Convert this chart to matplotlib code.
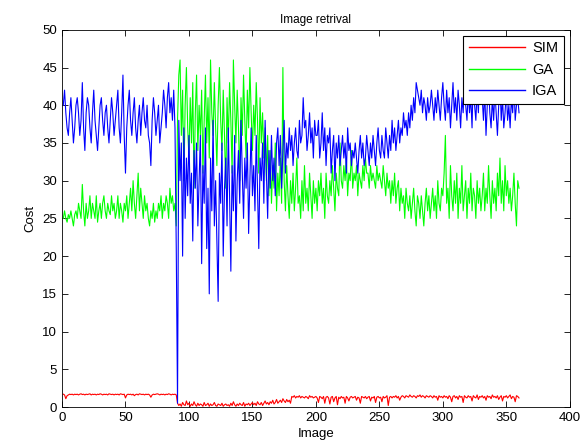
import matplotlib
matplotlib.use("Agg")
import matplotlib.pyplot as plt
import numpy as np

plt.rcParams['font.family'] = ['Liberation Sans', 'DejaVu Sans']

title = "Image retrival"
xlabel = "Image"
ylabel = "Cost"
series_names = ["SIM", "GA", "IGA"]
xticks = [0, 50, 100, 150, 200, 250, 300, 350, 400]
yticks = [0, 5, 10, 15, 20, 25, 30, 35, 40, 45, 50]

iga = [
    40, 42, 39, 37, 36, 39, 41, 38, 35, 37,
    40, 41, 39, 36, 38, 43, 37, 34, 39, 41,
    40, 37, 35, 39, 42, 38, 36, 34, 37, 40,
    41, 38, 36, 39, 40, 37, 35, 38, 41, 39,
    36, 38, 40, 42, 37, 35, 39, 44, 36, 31,
    37, 40, 42, 38, 36, 39, 41, 37, 35, 38,
    40, 36, 39, 41, 38, 37, 40, 36, 35, 32,
    38, 41, 39, 36, 38, 40, 35, 37, 39, 42,
    40, 37, 41, 43, 39, 41, 38, 42, 37, 21,
    0.5, 38, 30, 35, 20, 37, 25, 33, 28, 36,
    27, 31, 22, 34, 29, 35, 24, 30, 36, 19,
    32, 27, 37, 21, 29, 15, 33, 26, 38, 24,
    30, 22, 14, 31, 27, 35, 20, 29, 33, 24,
    37, 28, 18, 32, 26, 36, 22, 30, 34, 27,
    38, 31, 25, 33, 29, 35, 23, 30, 37, 28,
    32, 26, 36, 29, 21, 33, 30, 35, 27, 38,
    31, 25, 34, 29, 36, 30, 33, 28, 35, 37,
    32, 36, 29, 34, 38, 31, 35, 33, 37, 34,
    36, 32, 35, 37, 34, 33, 38, 35, 36, 41,
    37, 38, 34, 36, 39, 35, 37, 33, 38, 36,
    36, 38, 33, 35, 39, 34, 37, 32, 36, 35,
    37, 31, 34, 36, 30, 35, 33, 36, 32, 34,
    36, 33, 35, 31, 37, 34, 35, 32, 34, 33,
    35, 33, 31, 34, 36, 33, 35, 32, 33, 36,
    34, 32, 35, 33, 36, 34, 32, 35, 37, 34,
    33, 36, 34, 33, 37, 35, 33, 36, 34, 38,
    35, 37, 34, 36, 38, 35, 37, 36, 39, 37,
    38, 36, 39, 37, 40, 38, 41, 39, 43, 42,
    41, 40, 42, 39, 41, 40, 38, 41, 39, 40,
    42, 40, 38, 41, 39, 42, 40, 38, 41, 43,
    40, 38, 42, 39, 41, 37, 40, 43, 39, 41,
    38, 42, 40, 37, 41, 39, 43, 40, 38, 42,
    39, 41, 37, 44, 40, 38, 42, 39, 45, 47,
    41, 38, 42, 36, 40, 43, 39, 37, 41, 38,
    42, 39, 36, 40, 43, 38, 41, 37, 39, 42,
    38, 40, 37, 41, 39, 43, 38, 40, 41, 39,
]

ga = [
    25, 26, 25, 24.5, 25.5, 25, 26, 25, 24, 25.5,
    26, 25, 27, 26, 25, 29.5, 26, 24, 27, 25,
    26, 28, 25, 27, 26, 25, 28, 24.5, 26, 27,
    25, 27, 28, 26, 25, 27, 26, 25.5, 28, 26,
    27, 25, 26, 28, 25, 27, 26, 24.5, 27, 26,
    28, 25, 27, 29, 26, 30, 27, 25, 28, 31,
    26, 29, 27, 25, 28, 26, 27, 25, 24, 26,
    25, 27, 24.5, 26, 25, 27, 26, 28, 25, 27,
    26, 28, 27, 25, 29, 27, 28, 26, 27, 24,
    38, 44, 46, 36, 42, 30, 40, 45, 37, 33,
    41, 35, 43, 29, 39, 44, 34, 40, 36, 42,
    31, 38, 44, 35, 41, 33, 46, 39, 36, 43,
    37, 32, 40, 45, 38, 34, 42, 36, 29, 41,
    35, 43, 38, 31, 46, 40, 35, 42, 37, 30,
    41, 36, 44, 38, 33, 42, 37, 45, 39, 34,
    40, 36, 43, 38, 31, 41, 35, 39, 33, 37,
    30, 36, 28, 34, 27, 32, 29, 35, 26, 31,
    28, 33, 27, 45, 30, 26, 32, 28, 25, 30,
    27, 31, 26, 29, 33, 27, 28, 25, 30, 26,
    32, 27, 29, 26, 31, 28, 25, 30, 27, 29,
    26, 30, 28, 31, 27, 29, 25, 31, 28, 27,
    30, 28, 32, 29, 26, 31, 29, 28, 35, 30,
    29, 32, 30, 33, 28, 31, 30, 34, 29, 31,
    30, 32, 28, 31, 30, 29, 32, 30, 33, 31,
    31, 29, 32, 30, 31, 30, 29, 32, 30, 31,
    30, 29, 32, 30, 28, 31, 29, 30, 27, 30,
    28, 31, 27, 29, 30, 26, 29, 27, 28, 25,
    29, 27, 26, 28, 25, 27, 29, 26, 24, 28,
    27, 25, 28, 26, 24, 27, 29, 26, 28, 25,
    27, 29, 26, 28, 25, 30, 27, 26, 29, 28,
    31, 36, 27, 29, 25, 32, 28, 26, 30, 27,
    31, 25, 29, 27, 32, 26, 28, 30, 25, 29,
    27, 31, 26, 29, 28, 25, 30, 27, 29, 26,
    28, 31, 26, 29, 27, 32, 28, 25, 30, 27,
    29, 26, 31, 28, 33, 27, 30, 26, 32, 28,
    30, 27, 29, 26, 28, 31, 27, 24, 30, 29,
]

sim = [
    1.7, 1.6, 1.1, 1.5, 1.6, 1.7, 1.65, 1.7, 1.6, 1.7,
    1.65, 1.7, 1.6, 1.7, 1.75, 1.65, 1.7, 1.6, 1.7, 1.65,
    1.7, 1.75, 1.6, 1.7, 1.65, 1.7, 1.6, 1.7, 1.65, 1.75,
    1.7, 1.6, 1.7, 1.65, 1.7, 1.6, 1.75, 1.7, 1.65, 1.7,
    1.6, 1.7, 1.65, 1.7, 1.6, 1.75, 1.7, 1.65, 1.7, 1.2,
    1.6, 1.7, 1.65, 1.7, 1.6, 1.7, 1.5, 1.65, 1.7, 1.6,
    1.75, 1.7, 1.65, 1.7, 1.6, 1.7, 1.65, 1.7, 1.6, 1.3,
    1.6, 1.7, 1.65, 1.7, 1.75, 1.7, 1.6, 1.7, 1.65, 1.7,
    1.6, 1.7, 1.65, 1.75, 1.7, 1.6, 1.7, 1.65, 1.7, 1.6,
    0.5, 0.2, 0.4, 0.1, 0.6, 0.3, 0.2, 0.8, 0.3, 0.5,
    0.1, 0.4, 0.2, 0.7, 0.3, 0.1, 0.5, 0.2, 0.4, 0.3,
    0.1, 0.6, 0.2, 0.3, 0.5, 0.1, 0.4, 0.2, 0.3, 0.6,
    0.2, 0.1, 0.4, 0.3, 0.2, 0.5, 0.1, 0.3, 0.4, 0.2,
    0.3, 0.1, 0.5, 0.2, 0.7, 0.3, 0.1, 0.4, 0.2, 0.5,
    0.3, 0.2, 0.6, 0.1, 0.4, 0.3, 0.5, 0.2, 0.4, 0.6,
    0.3, 0.5, 0.2, 0.7, 0.4, 0.3, 0.6, 0.2, 0.5, 0.8,
    0.4, 0.6, 0.3, 0.7, 0.5, 0.9, 0.4, 0.6, 1.0, 0.5,
    0.7, 0.9, 0.6, 1.1, 0.8, 0.6, 1.0, 0.7, 0.9, 0.5,
    1.4, 1.3, 1.5, 1.2, 1.4, 1.3, 1.5, 1.2, 1.4, 1.3,
    1.2, 1.4, 1.3, 1.1, 1.5, 1.3, 1.4, 1.2, 1.3, 1.4,
    1.2, 0.6, 1.4, 1.3, 1.1, 1.4, 0.5, 1.3, 1.4, 1.2,
    0.4, 1.3, 1.4, 0.7, 1.2, 1.4, 0.3, 1.3, 1.1, 1.4,
    1.2, 1.3, 0.5, 1.4, 1.2, 0.8, 1.3, 1.4, 1.2, 1.3,
    1.4, 0.9, 1.3, 1.2, 0.5, 1.4, 1.3, 1.2, 1.4, 1.1,
    1.3, 1.4, 0.8, 1.3, 1.2, 1.4, 0.6, 1.3, 1.4, 1.2,
    1.3, 0.7, 1.4, 1.2, 1.3, 1.5, 0.2, 1.3, 1.4, 1.2,
    1.4, 1.3, 1.5, 1.2, 1.4, 0.9, 1.3, 1.5, 1.4, 1.2,
    1.5, 1.4, 1.3, 1.6, 1.4, 1.3, 1.5, 1.4, 1.2, 1.5,
    1.4, 1.6, 1.3, 1.5, 1.4, 1.2, 1.5, 1.4, 1.3, 1.5,
    1.4, 1.2, 1.5, 1.3, 1.4, 0.9, 1.5, 1.3, 1.4, 1.2,
    1.5, 1.3, 1.4, 1.1, 1.5, 1.3, 0.7, 1.4, 1.5, 1.2,
    1.4, 1.0, 1.5, 1.3, 1.4, 0.6, 1.5, 1.3, 1.2, 1.5,
    1.3, 1.4, 0.8, 1.5, 1.3, 1.2, 1.6, 1.0, 1.4, 1.3,
    1.5, 1.2, 1.4, 0.9, 1.5, 1.3, 1.4, 1.1, 1.6, 1.3,
    1.4, 1.2, 1.5, 1.0, 1.3, 1.5, 0.8, 1.4, 1.3, 1.5,
    1.2, 1.4, 1.6, 1.1, 1.4, 1.3, 0.7, 1.5, 1.4, 1.2,
]

x = np.arange(1, len(iga) + 1)

fig = plt.figure(figsize=(5.85, 4.48), dpi=100)
ax = fig.add_axes([0.106, 0.0915, 0.868, 0.842])

ax.plot(np.arange(1, len(sim) + 1), sim, color=(1, 0, 0), lw=0.8, label=series_names[0])
ax.plot(np.arange(1, len(ga) + 1), ga, color=(0, 1, 0), lw=0.8, label=series_names[1])
ax.plot(x, iga, color=(0, 0, 1), lw=0.8, label=series_names[2])

ax.set_xlim(0, 400)
ax.set_ylim(0, 50)
ax.set_xticks(xticks)
ax.set_yticks(yticks)
ax.tick_params(direction='in', top=True, right=True, labelsize=9.5, length=4, width=0.6)
for s in ax.spines.values():
    s.set_linewidth(0.6)

ax.set_title(title, fontsize=8.5, pad=5)
ax.set_xlabel(xlabel, fontsize=9.5, labelpad=3)
ax.set_ylabel(ylabel, fontsize=9.5, labelpad=4)

leg = ax.legend(loc='upper right', fontsize=10.5, fancybox=False, framealpha=1,
                edgecolor='black', borderaxespad=0.4, handlelength=3.8,
                borderpad=0.4, labelspacing=0.5, handletextpad=0.5)
leg.get_frame().set_linewidth(0.8)
for line in leg.get_lines():
    line.set_linewidth(1.0)

fig.savefig("out.png", dpi=100)
